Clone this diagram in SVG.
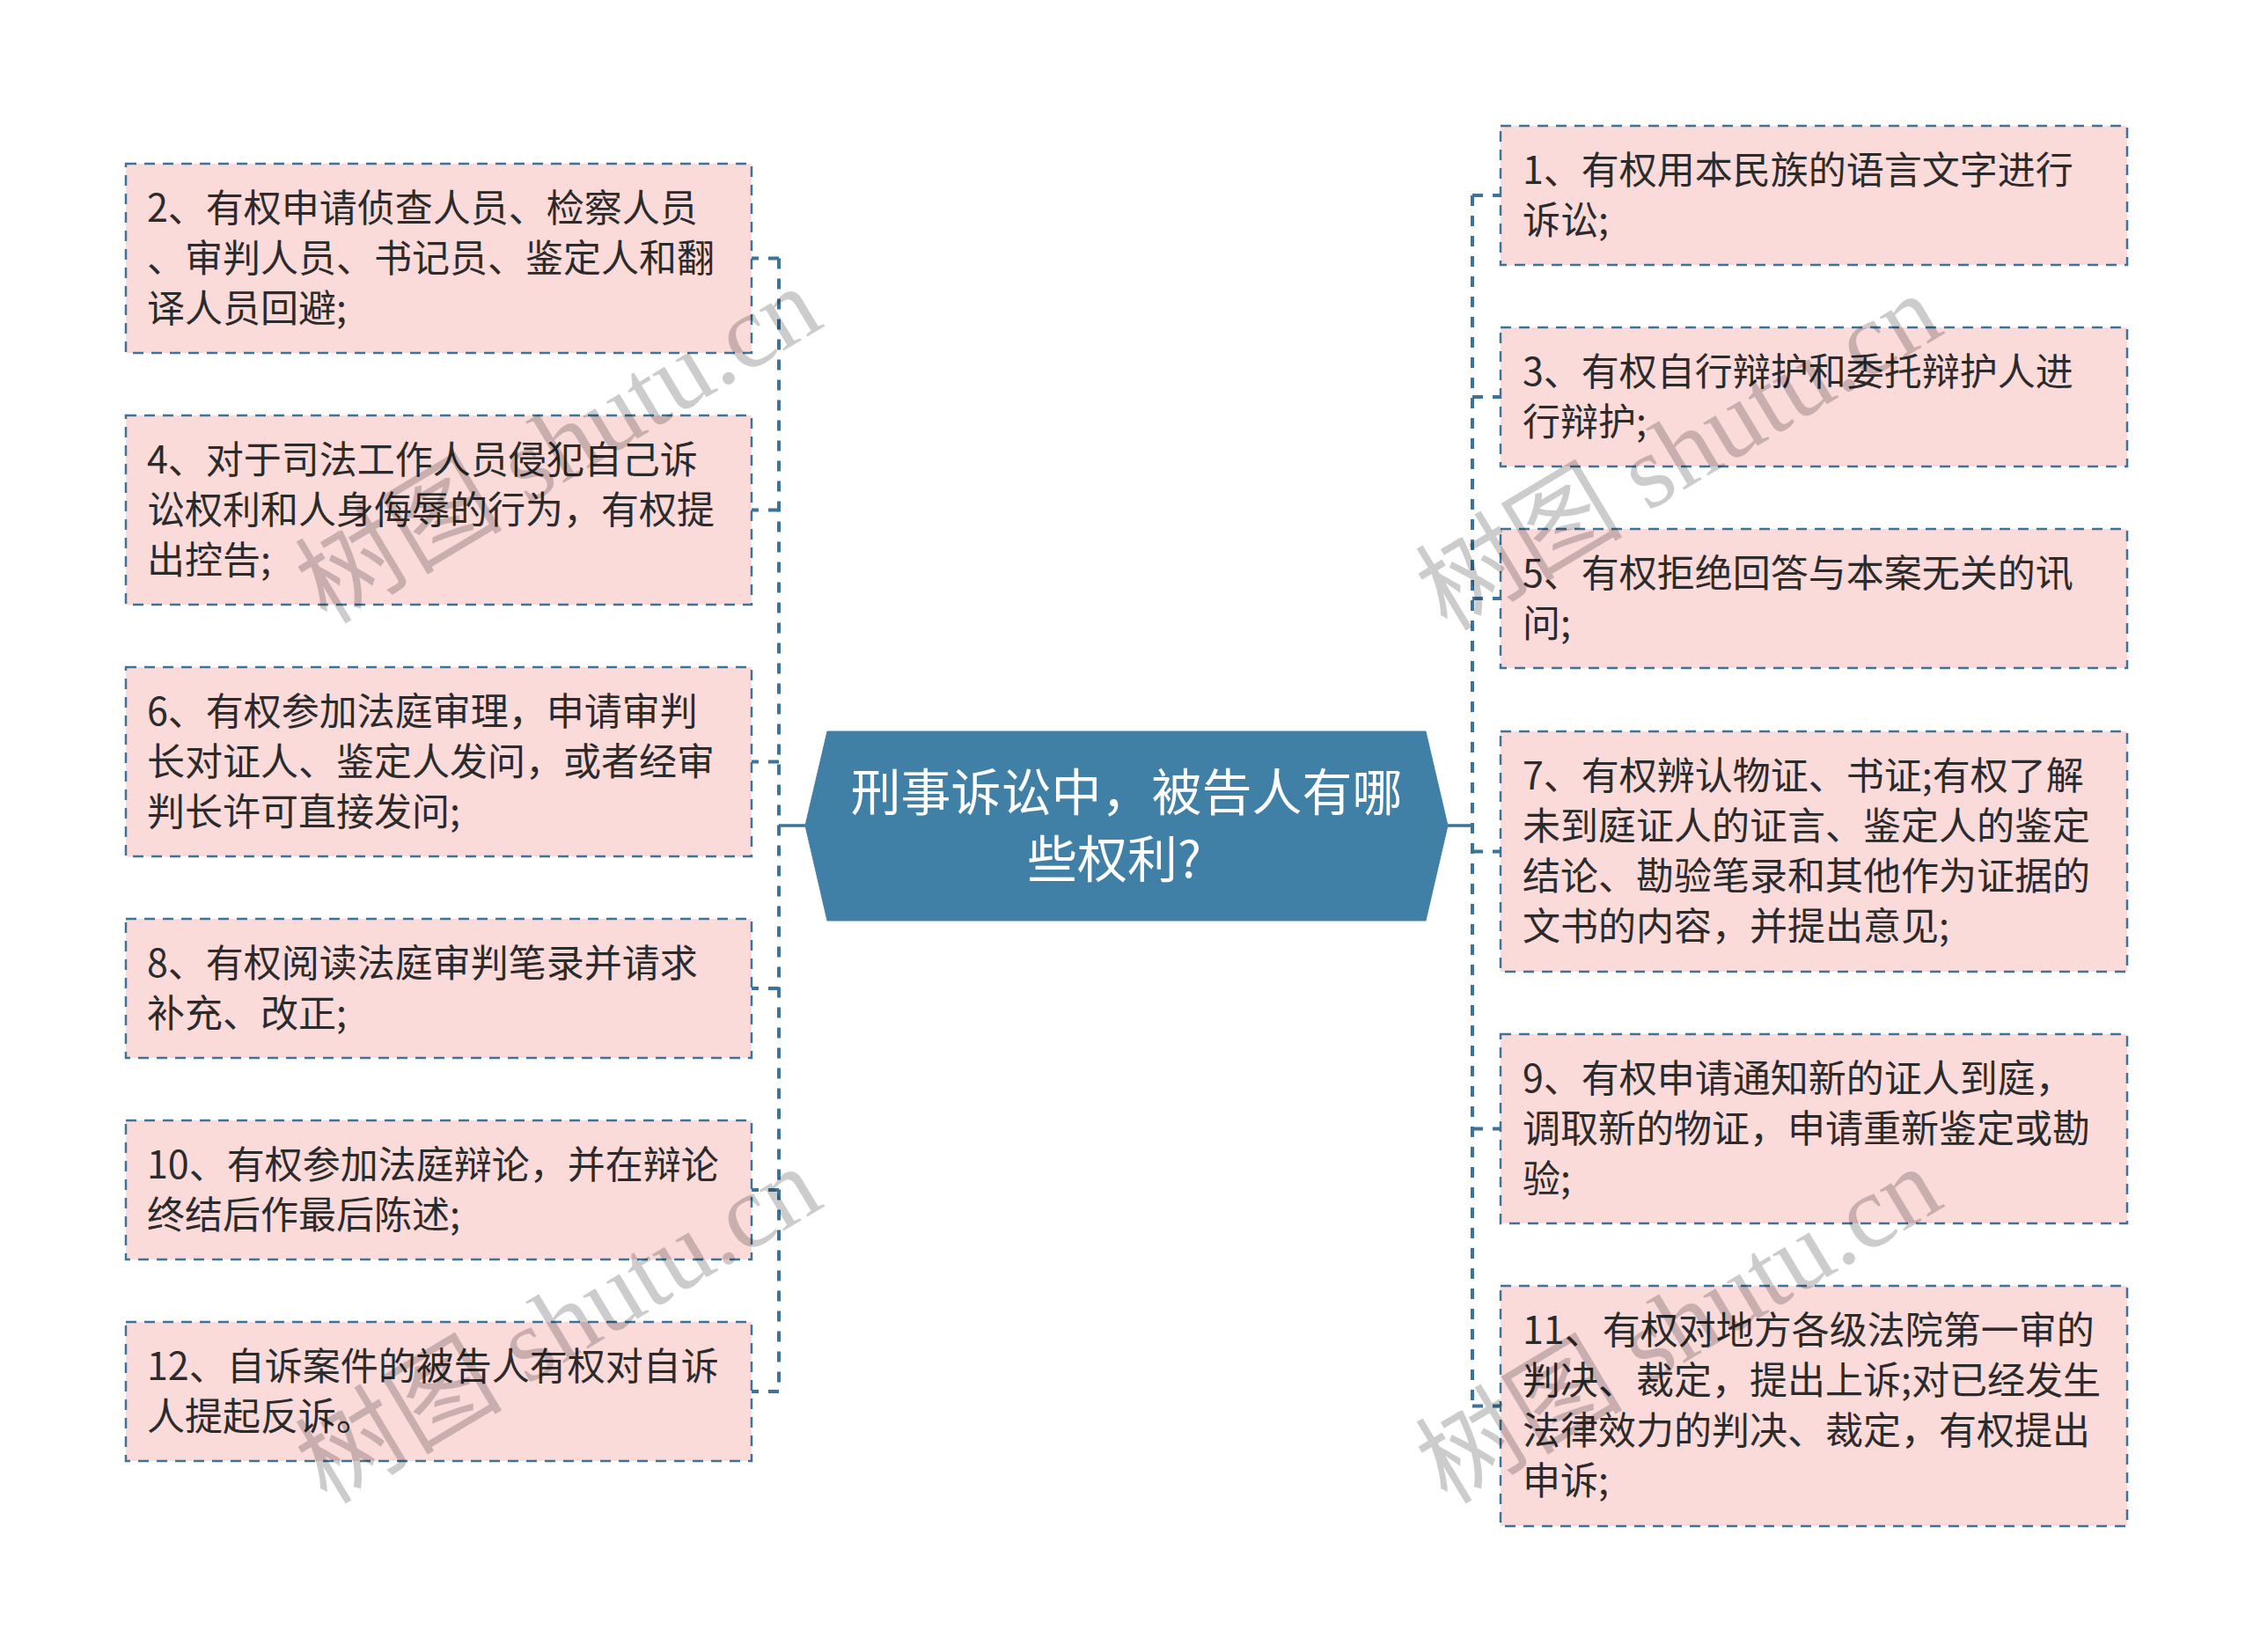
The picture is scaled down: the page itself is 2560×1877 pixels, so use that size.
<svg xmlns="http://www.w3.org/2000/svg" width="2560" height="1877" viewBox="0 0 2560 1877">
<style>
.bg{fill:#ffffff}
.node rect{fill:#fbdada;stroke:#3d7399;stroke-width:2.5;stroke-dasharray:12 9}
.node text{font-family:"Noto Sans CJK SC","Noto Sans",sans-serif;font-size:43px;fill:#2b2b2b}
.center polygon{fill:#407fa6;stroke:#407fa6;stroke-width:1}
.center text{font-family:"Noto Sans CJK SC","Noto Sans",sans-serif;font-size:57px;fill:#ffffff;text-anchor:middle}
.conn path{fill:none;stroke:#3d7399;stroke-width:4;stroke-dasharray:12 11}
.conn path.solid{stroke-dasharray:none;stroke-width:3.5}
.wm{font-family:"Liberation Serif","Noto Sans CJK SC",serif;font-size:118px;fill:#000;fill-opacity:0.2}
</style>
<rect class="bg" x="0" y="0" width="2560" height="1877"/>
<g id="connectors" class="conn">
<path class="solid" d="M915 938 H885"/>
<path d="M885 293.5 V1581"/>
<path d="M885 293.5 H854"/>
<path d="M885 579.5 H854"/>
<path d="M885 865.5 H854"/>
<path d="M885 1123 H854"/>
<path d="M885 1352 H854"/>
<path d="M885 1581 H854"/>
<path class="solid" d="M1645 938 H1673"/>
<path d="M1673 222 V1597.5"/>
<path d="M1673 222 H1705"/>
<path d="M1673 451 H1705"/>
<path d="M1673 680 H1705"/>
<path d="M1673 967.5 H1705"/>
<path d="M1673 1282.5 H1705"/>
<path d="M1673 1597.5 H1705"/>
</g>
<g id="center" class="center">
<polygon points="940,831 1620,831 1645,938 1620,1046 940,1046 915,938"/>
<text x="1280" y="921">刑事诉讼中，被告人有哪</text>
<text x="1266" y="997">些权利?</text>
</g>
<g id="node2" class="node">
<rect x="143" y="186" width="711" height="215"/>
<text x="167" y="252">2、有权申请侦查人员、检察人员</text>
<text x="167" y="309">、审判人员、书记员、鉴定人和翻</text>
<text x="167" y="366">译人员回避;</text>
</g>
<g id="node4" class="node">
<rect x="143" y="472" width="711" height="215"/>
<text x="167" y="538">4、对于司法工作人员侵犯自己诉</text>
<text x="167" y="595">讼权利和人身侮辱的行为，有权提</text>
<text x="167" y="652">出控告;</text>
</g>
<g id="node6" class="node">
<rect x="143" y="758" width="711" height="215"/>
<text x="167" y="824">6、有权参加法庭审理，申请审判</text>
<text x="167" y="881">长对证人、鉴定人发问，或者经审</text>
<text x="167" y="938">判长许可直接发问;</text>
</g>
<g id="node8" class="node">
<rect x="143" y="1044" width="711" height="158"/>
<text x="167" y="1110">8、有权阅读法庭审判笔录并请求</text>
<text x="167" y="1167">补充、改正;</text>
</g>
<g id="node10" class="node">
<rect x="143" y="1273" width="711" height="158"/>
<text x="167" y="1339">10、有权参加法庭辩论，并在辩论</text>
<text x="167" y="1396">终结后作最后陈述;</text>
</g>
<g id="node12" class="node">
<rect x="143" y="1502" width="711" height="158"/>
<text x="167" y="1568">12、自诉案件的被告人有权对自诉</text>
<text x="167" y="1625">人提起反诉。</text>
</g>
<g id="node1" class="node">
<rect x="1705" y="143" width="712" height="158"/>
<text x="1730" y="209">1、有权用本民族的语言文字进行</text>
<text x="1730" y="266">诉讼;</text>
</g>
<g id="node3" class="node">
<rect x="1705" y="372" width="712" height="158"/>
<text x="1730" y="438">3、有权自行辩护和委托辩护人进</text>
<text x="1730" y="495">行辩护;</text>
</g>
<g id="node5" class="node">
<rect x="1705" y="601" width="712" height="158"/>
<text x="1730" y="667">5、有权拒绝回答与本案无关的讯</text>
<text x="1730" y="724">问;</text>
</g>
<g id="node7" class="node">
<rect x="1705" y="831" width="712" height="273"/>
<text x="1730" y="897">7、有权辨认物证、书证;有权了解</text>
<text x="1730" y="954">未到庭证人的证言、鉴定人的鉴定</text>
<text x="1730" y="1011">结论、勘验笔录和其他作为证据的</text>
<text x="1730" y="1068">文书的内容，并提出意见;</text>
</g>
<g id="node9" class="node">
<rect x="1705" y="1175" width="712" height="215"/>
<text x="1730" y="1241">9、有权申请通知新的证人到庭，</text>
<text x="1730" y="1298">调取新的物证，申请重新鉴定或勘</text>
<text x="1730" y="1355">验;</text>
</g>
<g id="node11" class="node">
<rect x="1705" y="1461" width="712" height="273"/>
<text x="1730" y="1527">11、有权对地方各级法院第一审的</text>
<text x="1730" y="1584">判决、裁定，提出上诉;对已经发生</text>
<text x="1730" y="1641">法律效力的判决、裁定，有权提出</text>
<text x="1730" y="1698">申诉;</text>
</g>
<g id="watermarks">
<text class="wm" text-anchor="middle" transform="translate(655,540) rotate(-31)">树图 shutu.cn</text>
<text class="wm" text-anchor="middle" transform="translate(1928,548) rotate(-31)">树图 shutu.cn</text>
<text class="wm" text-anchor="middle" transform="translate(655,1540) rotate(-31)">树图 shutu.cn</text>
<text class="wm" text-anchor="middle" transform="translate(1928,1540) rotate(-31)">树图 shutu.cn</text>
</g>
</svg>
